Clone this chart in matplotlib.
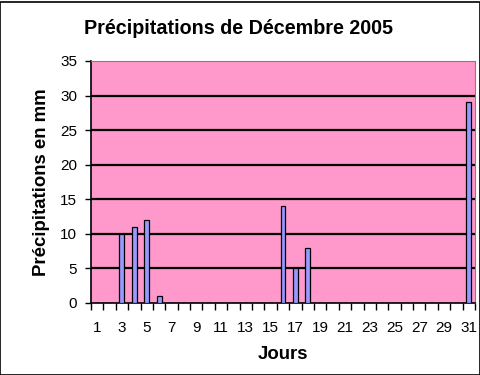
import numpy as np
import matplotlib.pyplot as plt
from matplotlib.patches import Rectangle

plt.rcParams['font.family'] = ['Liberation Sans', 'DejaVu Sans']

days = list(range(1, 32))
rain = [0, 0, 10, 11, 12, 1, 0, 0, 0, 0, 0, 0, 0, 0, 0, 14, 5, 8,
        0, 0, 0, 0, 0, 0, 0, 0, 0, 0, 0, 0, 29]
day_labels = [str(d) for d in days if d % 2 == 1]
y_ticks = [0, 5, 10, 15, 20, 25, 30, 35]


def main():
    fig = plt.figure(figsize=(4.81, 3.75), dpi=100)
    ax = fig.add_axes([91 / 481, 72 / 375, 384 / 481, 242 / 375])
    ax.set_facecolor('#FF99CC')

    ax.bar(days, rain, width=0.4, color='#9999FF', edgecolor='black',
           linewidth=0.9, zorder=3)

    ax.set_xlim(0.5, 31.5)
    ax.set_ylim(0, 35)
    ax.set_yticks(y_ticks)
    for y in y_ticks[1:-1]:
        ax.axhline(y, color='black', linewidth=1.6, zorder=2)

    # ticks on category boundaries, labels on odd days
    ax.set_xticks(np.arange(0.5, 32, 1))
    ax.set_xticklabels([])
    ax.set_xticks([d for d in days if d % 2 == 1], minor=True)
    ax.set_xticklabels(day_labels, minor=True)
    ax.tick_params(axis='x', which='major', direction='out', length=5, width=1)
    ax.tick_params(axis='x', which='minor', length=0, pad=13, labelsize=11)
    ax.tick_params(axis='y', direction='out', length=4, width=1, labelsize=11, pad=6)

    for s in ['top', 'right']:
        ax.spines[s].set_color('#808080')
    for s in ['left', 'bottom']:
        ax.spines[s].set_color('black')
        ax.spines[s].set_linewidth(1.2)

    ax.set_xlabel('Jours', fontsize=13.4, fontweight='bold', labelpad=8)
    ax.set_ylabel('Précipitations en mm', fontsize=13.4, fontweight='bold', labelpad=7)
    fig.text(239 / 481, 1 - 28 / 375, 'Précipitations de Décembre 2005',
             ha='center', va='center', fontsize=14.2, fontweight='bold')

    fig.add_artist(Rectangle((0.001, 0.001), 0.996, 0.995, transform=fig.transFigure,
                             fill=False, edgecolor='black', linewidth=1.2))

    fig.savefig('out.png', dpi=100)


if __name__ == '__main__':
    main()
